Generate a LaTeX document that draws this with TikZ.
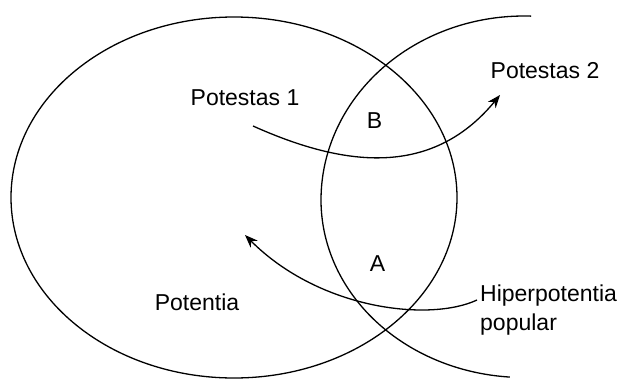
\documentclass[tikz,border=0pt]{standalone}
\usepackage{fontspec}
\setmainfont{Liberation Sans}
\usetikzlibrary{arrows.meta}
\tikzset{
  curveline/.style={line width=1.3pt, black, line join=round},
  flowarrow/.style={line width=1.3pt, black, -{Stealth[length=13pt,width=10pt]}},
  lbl/.style={font=\fontsize{23}{28}\selectfont, inner sep=0pt, anchor=base},
  lblw/.style={font=\fontsize{23}{28}\selectfont, inner sep=0pt, anchor=base west}
}
\begin{document}
\begin{tikzpicture}[x=1pt,y=-1pt]
\useasboundingbox (0,0) rectangle (621,378);
% large ellipse (Potentia)
\draw[curveline] (234,197.5) ellipse [x radius=223, y radius=180.5];
% second circle (partially shown)
\draw[curveline] plot[domain=-92:86, samples=160, smooth]
  ({524-203*cos(\x)}, {200+((\x<0)?184:177.5)*sin(\x)});
% labels
\node[lbl] (p1) at (245,105) {Potestas 1};
\node[lbl] (p2) at (545,78) {Potestas 2};
\node[lbl] (b) at (374.5,128) {B};
\node[lbl] (a) at (377.5,271) {A};
\node[lbl] (pot) at (197,310) {Potentia};
\node[lblw] (hip) at (480,301.5) {Hiperpotentia};
\node[lblw] (pop) at (480,330) {popular};
% arrow ends
\coordinate (s1) at (253,126);
\coordinate (e1) at (500,95);
\coordinate (s2) at (477,300);
\coordinate (e2) at (245,235);
\draw[flowarrow] (s1) .. controls (340,165) and (430,180) .. (e1);
\draw[flowarrow] (s2) .. controls (430,322) and (320,310) .. (e2);
\end{tikzpicture}
\end{document}
